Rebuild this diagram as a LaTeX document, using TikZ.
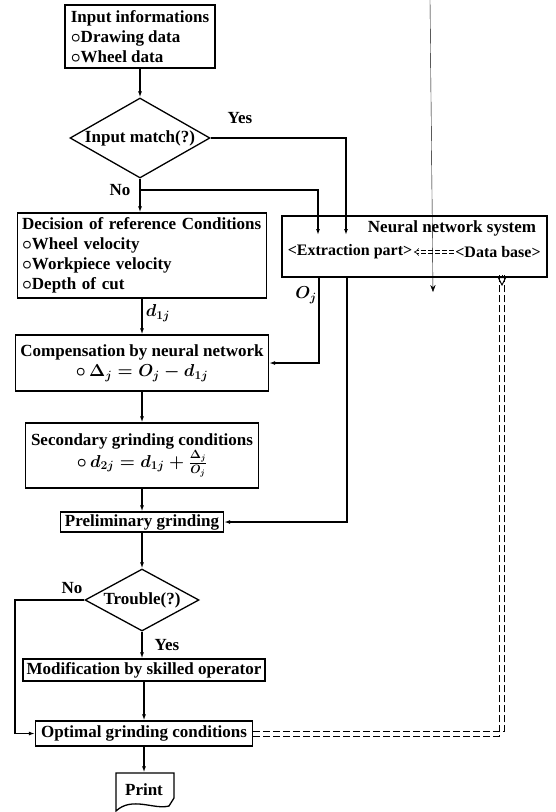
\documentclass[tikz,border=0pt]{standalone}
\usepackage{fontspec}
\setmainfont{Liberation Serif}
\usetikzlibrary{shapes.geometric,arrows.meta}

\begin{document}
\begin{tikzpicture}[x=1pt, y=-1pt, line width=1.3pt,
  every node/.style={font=\bfseries\boldmath\fontsize{17}{20}\selectfont},
  box/.style={draw, rectangle, inner sep=3pt},
  question/.style={draw, diamond, inner sep=0pt},
  arr/.style={-{Latex[length=6pt,width=4pt]}},
  dbl/.style={line width=1pt, dash pattern=on 7pt off 3pt}]
\useasboundingbox (0,0) rectangle (556,812);

\node[box, minimum width=150, minimum height=63, align=left] (info) at (140,36.5) {Input informations\\$\circ$Drawing data\\$\circ$Wheel data};
\node[question, aspect=1.75, minimum width=140, minimum height=80] (match) at (140,138) {Input match(?)};

\node[box, minimum width=249, minimum height=85, align=left, text width=240] (decide) at (142,255.5) {Decision of reference Conditions\\$\circ$Wheel velocity\\$\circ$Workpiece velocity\\$\circ$Depth of cut};
\node[box, minimum width=265, minimum height=61] (nn) at (414.5,246.5) {};
\node (nntitle) at (452,228) {Neural network system};
\node[inner sep=1pt, font=\bfseries\fontsize{16}{20}\selectfont] (ext) at (350,252) {<Extraction part>};
\node[inner sep=1pt, font=\bfseries\fontsize{16}{20}\selectfont] (db) at (498,252) {<Data base>};

\node[box, minimum width=253, minimum height=56, align=center] (comp) at (142,363) {Compensation by neural network\\$\circ\,\Delta_j = O_j - d_{1j}$};
\node[box, minimum width=233, minimum height=65, align=center] (second) at (142,455.5) {Secondary grinding conditions\\$\circ\, d_{2j} = d_{1j} + \frac{\Delta_j}{O_j}$};
\node[box, minimum width=163, minimum height=20, inner sep=1pt] (prelim) at (142,522) {Preliminary grinding};
\node[question, aspect=1.84, minimum width=114, minimum height=62] (trouble) at (142,600) {Trouble(?)};
\node[box, minimum width=242, minimum height=22, inner sep=1pt] (modif) at (144,670) {Modification by skilled operator};
\node[box, minimum width=217, minimum height=25, inner sep=1pt] (optim) at (144,733.5) {Optimal grinding conditions};
\node[minimum width=56, minimum height=34] (print) at (144,790) {Print};
\draw ([shift={(-28,-17)}]print.center) -- ([shift={(30,-17)}]print.center) -- ([shift={(30,8)}]print.center) -- ([shift={(25,16)}]print.center) .. controls ([shift={(10,20)}]print.center) and ([shift={(-12,6)}]print.center) .. ([shift={(-28,21)}]print.center) -- cycle;

\node (yes1) at (240,118) {Yes};
\node (no1) at (120,190) {No};
\node (d1j) at (158,313) {$d_{1j}$};
\node (oj) at (306,295) {$O_j$};
\node (no2) at (72,588) {No};
\node (yes2) at (167,645) {Yes};

\coordinate (nobranch) at (140,190);
\coordinate (noin) at (318,235);
\coordinate (yesin) at (346,235);
\coordinate (ojout) at (319,277);
\coordinate (nnout) at (347,277);
\coordinate (noleft) at (15,600);
\coordinate (dbin) at (502,275);
\coordinate (scantop) at (430,0);
\coordinate (scanend) at (433,292);

\draw[arr] (info) -- (match);
\draw[arr] (match) -- (match |- decide.north);
\draw[arr] (nobranch) -| (noin);
\draw[arr] (match.east) -| (yesin);
\draw[arr] (decide) -- (comp);
\draw[arr] (comp) -- (second);
\draw[arr] (second) -- (prelim);
\draw[arr] (prelim) -- (trouble);
\draw[arr] (trouble) -- (trouble |- modif.north);
\draw[arr] (modif) -- (optim);
\draw[arr] (optim) -- (print);
\draw[arr] (ojout) |- (comp);
\draw[arr] (nnout) |- (prelim);
\draw[arr] (trouble) -- (noleft) |- (optim);
\draw[dbl] ([yshift=-2.5]optim.east) -| ([xshift=-2.5]dbin);
\draw[dbl] ([yshift=2.5]optim.east) -| ([xshift=2.5]dbin);
\draw[line width=1pt, fill=white, -{Triangle[open,length=9pt,width=9pt]}] (dbin) -- ([yshift=-11]dbin);
\draw[-Implies, double, double distance=2pt, line width=0.6pt, dash pattern=on 5pt off 2pt] (db) -- (ext);
\draw[line width=0.4pt, -{Stealth[length=7pt]}] (scantop) -- (scanend);
\end{tikzpicture}
\end{document}
